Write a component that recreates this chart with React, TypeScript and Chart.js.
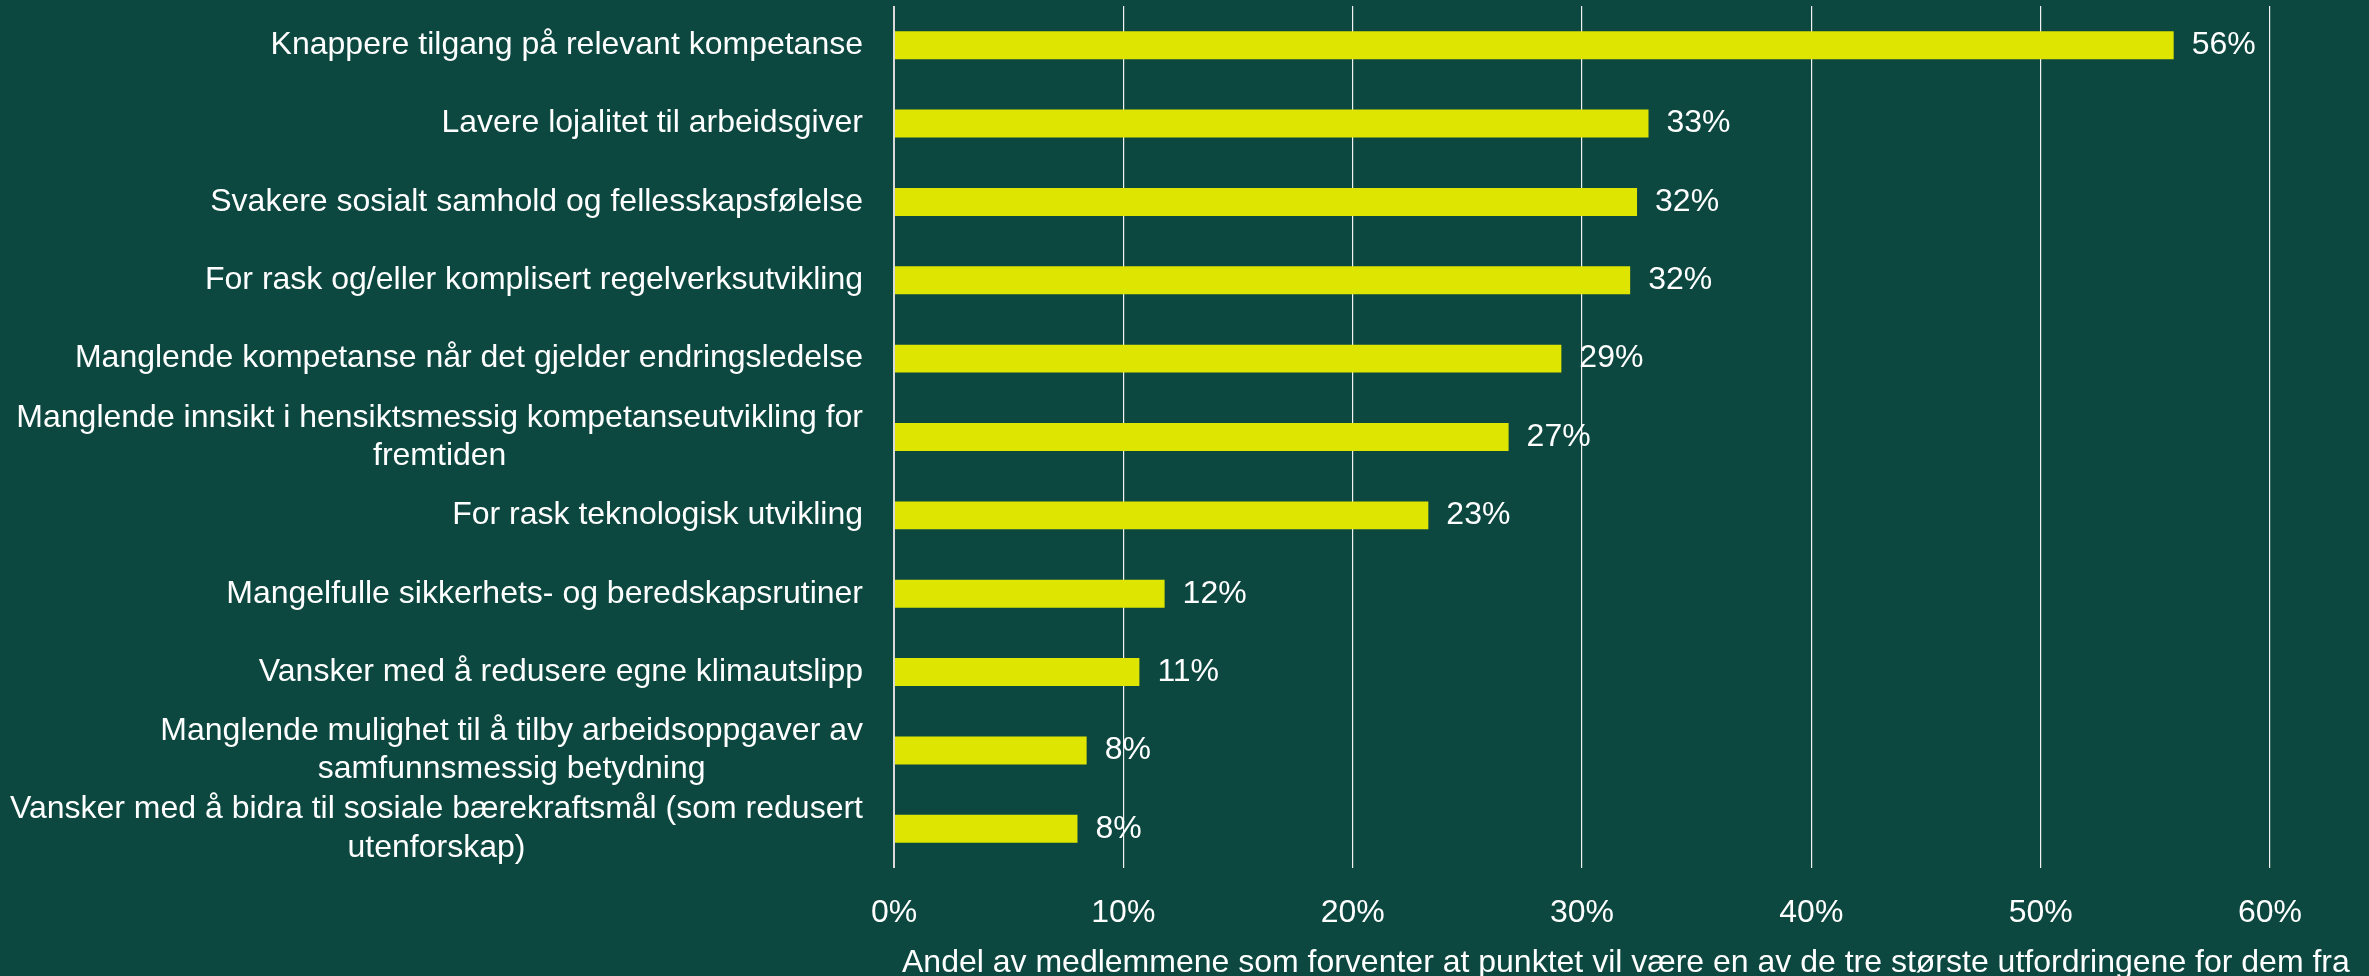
import React, { useEffect, useRef } from "react";
import { Chart, registerables } from "chart.js";

Chart.register(...registerables);

const categories: string[][] = [
  ["Knappere tilgang på relevant kompetanse"],
  ["Lavere lojalitet til arbeidsgiver"],
  ["Svakere sosialt samhold og fellesskapsfølelse"],
  ["For rask og/eller komplisert regelverksutvikling"],
  ["Manglende kompetanse når det gjelder endringsledelse"],
  ["Manglende innsikt i hensiktsmessig kompetanseutvikling for", "fremtiden"],
  ["For rask teknologisk utvikling"],
  ["Mangelfulle sikkerhets- og beredskapsrutiner"],
  ["Vansker med å redusere egne klimautslipp"],
  ["Manglende mulighet til å tilby arbeidsoppgaver av", "samfunnsmessig betydning"],
  ["Vansker med å bidra til sosiale bærekraftsmål (som redusert", "utenforskap)"],
];

const values: number[] = [55.8, 32.9, 32.4, 32.1, 29.1, 26.8, 23.3, 11.8, 10.7, 8.4, 8.0];

const xMin = 0;
const xMax = 60;
const xStep = 10;

const axisTitle =
  "Andel av medlemmene som forventer at punktet vil være en av de tre største utfordringene for dem fra";

const BG = "#0c4840";
const BAR = "#dde500";
const FONT = '"Liberation Sans", Arial, sans-serif';

const yLabelsPlugin = {
  id: "yLabels",
  afterDraw(chart: any) {
    const { ctx, chartArea } = chart;
    const y = chart.scales.y;
    ctx.save();
    ctx.font = `32px ${FONT}`;
    ctx.fillStyle = "#ffffff";
    ctx.textBaseline = "middle";
    ctx.textAlign = "center";
    const right = chartArea.left - 31;
    const lh = 38.4;
    categories.forEach((lines, i) => {
      const cy = y.getPixelForTick(i);
      const maxW = Math.max(...lines.map((l) => ctx.measureText(l).width));
      const cx = right - maxW / 2;
      lines.forEach((line, j) => {
        ctx.fillText(line, cx, cy + (j - (lines.length - 1) / 2) * lh);
      });
    });
    ctx.restore();
  },
};

const valueLabelsPlugin = {
  id: "valueLabels",
  afterDatasetsDraw(chart: any) {
    const { ctx } = chart;
    const meta = chart.getDatasetMeta(0);
    ctx.save();
    ctx.font = `32px ${FONT}`;
    ctx.fillStyle = "#ffffff";
    ctx.textBaseline = "middle";
    ctx.textAlign = "left";
    meta.data.forEach((el: any, i: number) => {
      ctx.fillText(`${Math.round(values[i])}%`, el.x + 18, el.y);
    });
    ctx.restore();
  },
};

const axisTitlePlugin = {
  id: "axisTitle",
  afterDraw(chart: any) {
    const { ctx, chartArea } = chart;
    ctx.save();
    ctx.font = `32px ${FONT}`;
    ctx.fillStyle = "#ffffff";
    ctx.textBaseline = "middle";
    ctx.textAlign = "left";
    ctx.fillText(axisTitle, chartArea.left + 8, chart.height - 13);
    ctx.restore();
  },
};

export default function App() {
  const canvasRef = useRef<HTMLCanvasElement | null>(null);

  useEffect(() => {
    document.body.style.margin = "0";
    document.body.style.background = BG;
    document.body.style.overflow = "hidden";
    const canvas = canvasRef.current;
    if (!canvas) return;
    const chart = new Chart(canvas, {
      type: "bar",
      data: {
        labels: categories.map((c) => c.join(" ")),
        datasets: [
          {
            data: values,
            backgroundColor: BAR,
            borderWidth: 0,
            barPercentage: 0.357,
            categoryPercentage: 1,
          },
        ],
      },
      options: {
        indexAxis: "y",
        responsive: true,
        maintainAspectRatio: false,
        animation: false,
        layout: { padding: { top: 6, right: 99, left: 0, bottom: 0 } },
        plugins: {
          legend: { display: false },
          tooltip: { enabled: false },
        },
        scales: {
          x: {
            min: xMin,
            max: xMax,
            ticks: {
              stepSize: xStep,
              color: "#ffffff",
              font: { family: FONT, size: 32 },
              padding: 26,
              callback: (v: any) => `${v}%`,
            },
            grid: {
              drawTicks: false,
              color: (ctx: any) => (ctx.index === 0 ? "#d9d9d9" : "#f2f2f2"),
              lineWidth: (ctx: any) => (ctx.index === 0 ? 2 : 1.2),
            },
            border: { display: false },
            afterFit: (s: any) => {
              s.height = 108;
            },
          },
          y: {
            ticks: { display: false },
            grid: { display: false },
            border: { display: false },
            afterFit: (s: any) => {
              s.width = 894;
            },
          },
        },
      },
      plugins: [valueLabelsPlugin, yLabelsPlugin, axisTitlePlugin],
    } as any);
    return () => chart.destroy();
  }, []);

  return (
    <div style={{ width: "2369px", height: "976px", background: BG, position: "relative" }}>
      <canvas ref={canvasRef} />
    </div>
  );
}
